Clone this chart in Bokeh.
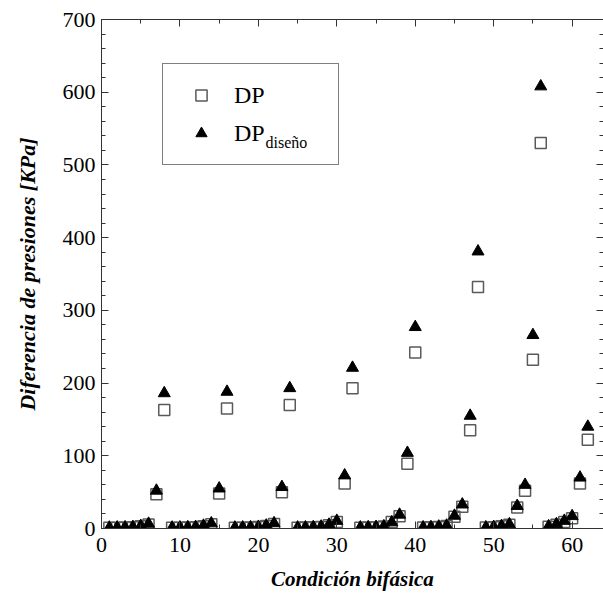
from bokeh.plotting import figure
from bokeh.models import (LinearAxis, SingleIntervalTicker, CustomJSTickFormatter,
                          Legend, LegendItem, Label, Range1d)
from bokeh.embed import file_html
from bokeh.resources import INLINE

# Two-phase test conditions and measured / design pressure differences [kPa]
condicion = list(range(1, 63))

dp = [
    1.0, 1.2, 1.4, 1.7, 3.0, 5.5, 47, 163,
    1.0, 1.2, 1.4, 1.8, 3.2, 6.0, 48, 165,
    1.0, 1.2, 1.5, 1.9, 3.4, 6.2, 50, 170,
    1.1, 1.3, 1.6, 2.2, 4.5, 9.0, 62, 193,
    1.2, 1.4, 1.8, 2.6, 9.0, 17, 89, 242,
    1.3, 1.6, 2.2, 3.5, 16, 30, 135, 332,
    1.3, 1.8, 3.0, 5.0, 29, 52, 232, 530,
    2.5, 5.0, 9.0, 14, 62, 122,
]

dp_diseno = [
    1.2, 1.4, 1.6, 2.0, 3.5, 6.5, 52, 186,
    1.2, 1.4, 1.7, 2.1, 3.8, 7.0, 55, 188,
    1.2, 1.4, 1.7, 2.2, 4.0, 7.2, 57, 193,
    1.3, 1.5, 1.9, 2.6, 5.2, 10.5, 73, 221,
    1.4, 1.7, 2.1, 3.0, 8.5, 19, 104, 277,
    1.5, 1.9, 2.6, 4.0, 17.5, 33, 155, 381,
    1.5, 2.1, 3.5, 5.8, 31, 60, 266, 608,
    3.0, 6.0, 10.5, 17, 70, 140,
]

x_label = "Condición bifásica"
y_label = "Diferencia de presiones [KPa]"
serif = "Liberation Serif"
axis_color = "#333333"

p = figure(width=603, height=600, output_backend="svg", toolbar_location=None,
           x_range=Range1d(0, 64), y_range=Range1d(0, 700),
           min_border_left=101, min_border_right=0,
           min_border_top=19, min_border_bottom=72)
p.background_fill_color = "white"
p.border_fill_color = "white"
p.outline_line_color = None
p.grid.visible = False

def style_axis(ax, labels=True):
    ax.axis_line_color = axis_color
    ax.axis_line_width = 1
    ax.major_tick_line_color = axis_color
    ax.minor_tick_line_color = axis_color
    ax.major_tick_in = 7
    ax.major_tick_out = 0
    ax.minor_tick_in = 4
    ax.minor_tick_out = 0
    if labels:
        ax.major_label_text_font = serif
        ax.major_label_text_font_size = "22px"
        ax.major_label_text_color = "black"
    else:
        ax.formatter = CustomJSTickFormatter(code="return ''")
        ax.major_label_text_font_size = "1px"
        ax.major_label_standoff = 0

xaxis = p.xaxis[0]
xaxis.ticker = SingleIntervalTicker(interval=10, num_minor_ticks=2)
style_axis(xaxis)
xaxis.major_label_standoff = 9
xaxis.axis_label = x_label
xaxis.axis_label_text_font = serif
xaxis.axis_label_text_font_style = "bold italic"
xaxis.axis_label_text_font_size = "21px"
xaxis.axis_label_text_color = "black"
xaxis.axis_label_standoff = 12

yaxis = p.yaxis[0]
yaxis.ticker = SingleIntervalTicker(interval=100, num_minor_ticks=5)
style_axis(yaxis)
yaxis.major_label_standoff = 6
yaxis.axis_label = y_label
yaxis.axis_label_text_font = serif
yaxis.axis_label_text_font_style = "bold italic"
yaxis.axis_label_text_font_size = "22px"
yaxis.axis_label_text_color = "black"
yaxis.axis_label_standoff = 20

top = LinearAxis(ticker=SingleIntervalTicker(interval=10, num_minor_ticks=2))
style_axis(top, labels=False)
p.add_layout(top, "above")

right = LinearAxis(ticker=SingleIntervalTicker(interval=100, num_minor_ticks=5))
style_axis(right, labels=False)
p.add_layout(right, "right")

sq = p.scatter(condicion, dp, marker="square", size=11, fill_color=None,
               line_color="#5a5a5a", line_width=1.5)
tri = p.scatter(condicion, dp_diseno, marker="triangle", size=12,
                fill_color="black", line_color="black", line_width=1)

legend = Legend(items=[LegendItem(label="DP", renderers=[sq]),
                       LegendItem(label="DP", renderers=[tri])],
                location=(61, 363), margin=0, padding=17, spacing=10,
                glyph_width=42, glyph_height=28, label_height=28,
                label_width=87, label_standoff=12,
                label_text_font=serif, label_text_font_size="24px",
                label_text_color="black",
                border_line_color="black", border_line_width=1,
                background_fill_alpha=0)
p.add_layout(legend)

# subscript of the second legend entry
p.add_layout(Label(x=164, y=378, x_units="screen", y_units="screen",
                   text="diseño", text_font=serif, text_font_size="16px",
                   text_baseline="bottom", text_color="black"))

open("out.html", "w").write(file_html(p, INLINE))
